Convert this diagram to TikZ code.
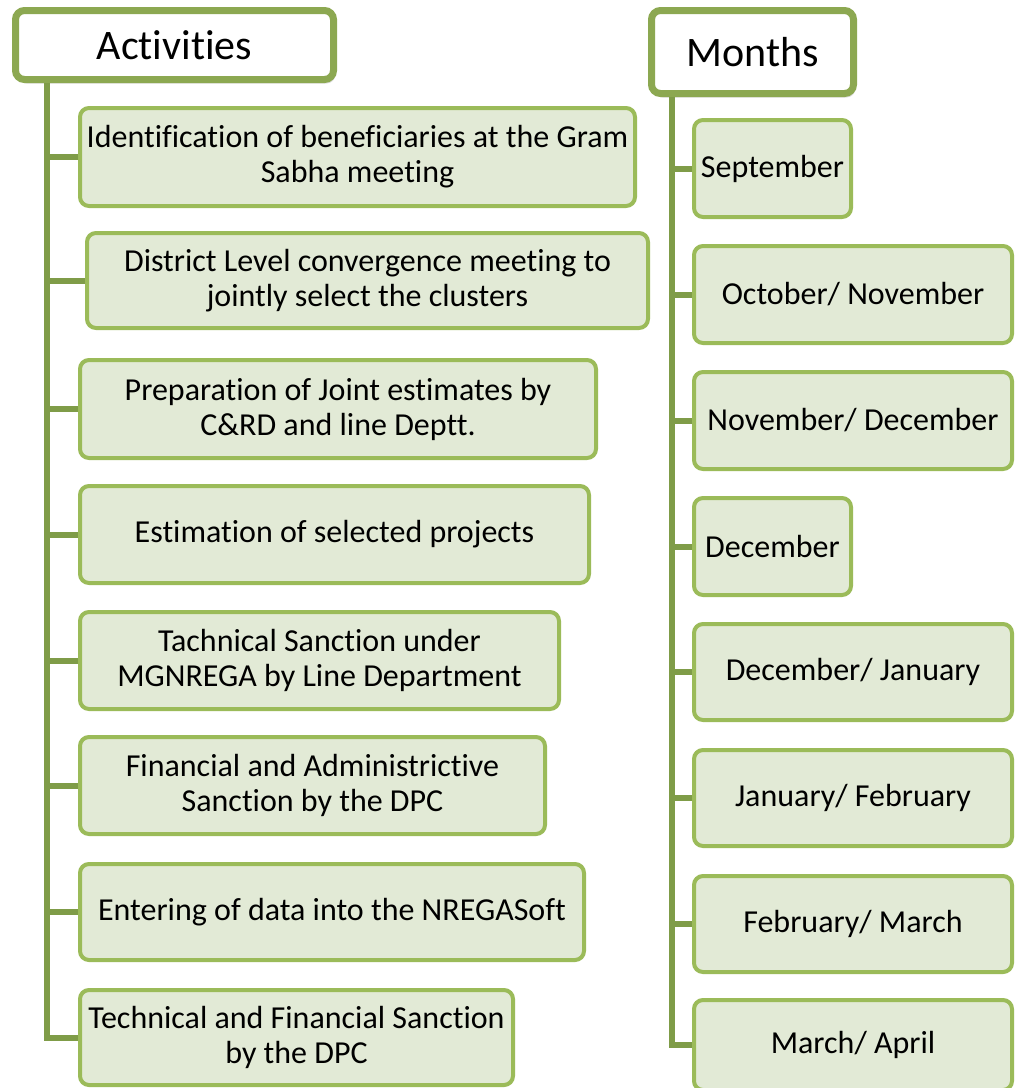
\documentclass[tikz,border=0pt]{standalone}
\usepackage{fontspec}
\setmainfont{Carlito}[Ligatures=CommonOff]
\usepackage{tikz}
\usetikzlibrary{positioning}
\usetikzlibrary{shadows}

\definecolor{boxline}{HTML}{9BBB59}
\definecolor{boxfill}{HTML}{E2EAD6}
\definecolor{headline}{HTML}{8CA851}
\definecolor{trunkline}{HTML}{7F9C48}

\begin{document}
\begin{tikzpicture}[x=1pt,y=-1pt,
    header/.style={draw=headline, line width=7pt, fill=white, rounded corners=9pt,
      drop shadow={opacity=0.25, shadow xshift=2pt, shadow yshift=-4pt},
      inner sep=0pt, font=\fontsize{42}{48}\selectfont},
    item/.style={draw=boxline, line width=4pt, fill=boxfill, rounded corners=9pt,
      align=center, inner sep=0pt, font=\fontsize{32}{35}\selectfont},
    branch/.style={draw=trunkline, line width=6pt}]
  \useasboundingbox[fill=white] (0,0) rectangle (1016,1088);

  % activities column
  \node[header, minimum width=318pt, minimum height=69pt] (hdrAct) at (174.5,45) {Activities};
  \node[item, minimum width=555pt, minimum height=98pt] (act1) at (357.5,157)
    {Identification of beneficiaries at the Gram\\Sabha meeting};
  \node[item, minimum width=561pt, minimum height=95pt] (act2) at (367.5,280.5)
    {District Level convergence meeting to\\jointly select the clusters};
  \node[item, minimum width=516pt, minimum height=98pt] (act3) at (338,409)
    {Preparation of Joint estimates by\\C\&RD and line Deptt.};
  \node[item, minimum width=509pt, minimum height=97pt] (act4) at (334.5,534.5)
    {Estimation of selected projects};
  \node[item, minimum width=479pt, minimum height=97pt] (act5) at (319.5,660.5)
    {Tachnical Sanction under\\MGNREGA by Line Department};
  \node[item, minimum width=465pt, minimum height=97pt] (act6) at (312.5,785.5)
    {Financial and Administrictive\\Sanction by the DPC};
  \node[item, minimum width=504pt, minimum height=96pt] (act7) at (332,912)
    {Entering of data into the NREGASoft};
  \node[item, minimum width=433pt, minimum height=95pt] (act8) at (296.5,1037.5)
    {Technical and Financial Sanction\\by the DPC};

  \coordinate (actTop) at ([xshift=35pt]hdrAct.south west);
  \draw[branch] (actTop) |- (act8.west);
  \draw[branch] (act1.west) -- (act1.west -| actTop);
  \draw[branch] (act2.west) -- (act2.west -| actTop);
  \draw[branch] (act3.west) -- (act3.west -| actTop);
  \draw[branch] (act4.west) -- (act4.west -| actTop);
  \draw[branch] (act5.west) -- (act5.west -| actTop);
  \draw[branch] (act6.west) -- (act6.west -| actTop);
  \draw[branch] (act7.west) -- (act7.west -| actTop);

  % months column
  \node[header, minimum width=202pt, minimum height=83pt] (hdrMon) at (752.5,52) {Months};
  \node[item, minimum width=157pt, minimum height=97pt] (mon1) at (772.5,168.5) {September};
  \node[item, minimum width=318pt, minimum height=97pt] (mon2) at (853,294.5) {October/ November};
  \node[item, minimum width=318pt, minimum height=97pt] (mon3) at (853,420.5) {November/ December};
  \node[item, minimum width=157pt, minimum height=97pt] (mon4) at (772.5,546.5) {December};
  \node[item, minimum width=318pt, minimum height=96pt] (mon5) at (853,672) {December/ January};
  \node[item, minimum width=318pt, minimum height=96pt] (mon6) at (853,798) {January/ February};
  \node[item, minimum width=318pt, minimum height=96pt] (mon7) at (853,924) {February/ March};
  \node[item, minimum width=318pt, minimum height=90pt] (mon8) at (853,1045) {March/ April};

  \coordinate (monTop) at ([xshift=24pt]hdrMon.south west);
  \draw[branch] (monTop) |- (mon8.west);
  \draw[branch] (mon1.west) -- (mon1.west -| monTop);
  \draw[branch] (mon2.west) -- (mon2.west -| monTop);
  \draw[branch] (mon3.west) -- (mon3.west -| monTop);
  \draw[branch] (mon4.west) -- (mon4.west -| monTop);
  \draw[branch] (mon5.west) -- (mon5.west -| monTop);
  \draw[branch] (mon6.west) -- (mon6.west -| monTop);
  \draw[branch] (mon7.west) -- (mon7.west -| monTop);
\end{tikzpicture}
\end{document}
